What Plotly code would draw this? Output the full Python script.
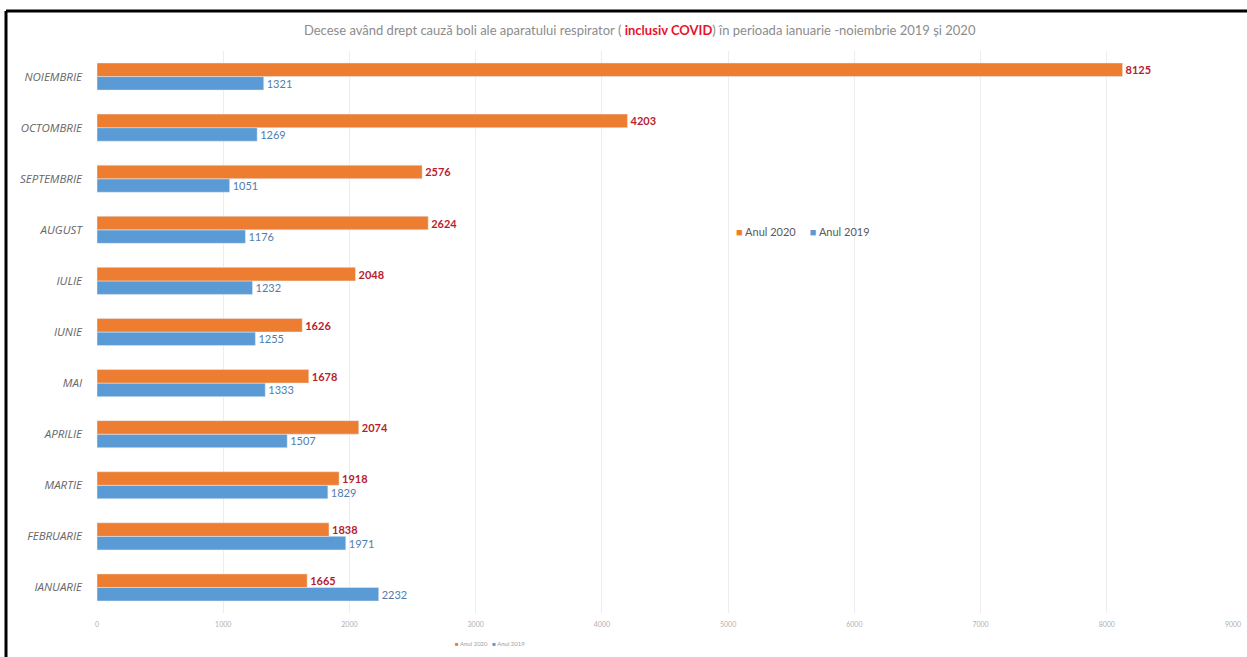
import plotly.graph_objects as go

months = ["IANUARIE", "FEBRUARIE", "MARTIE", "APRILIE", "MAI", "IUNIE",
          "IULIE", "AUGUST", "SEPTEMBRIE", "OCTOMBRIE", "NOIEMBRIE"]
anul_2020 = [1665, 1838, 1918, 2074, 1678, 1626, 2048, 2624, 2576, 4203, 8125]
anul_2019 = [2232, 1971, 1829, 1507, 1333, 1255, 1232, 1176, 1051, 1269, 1321]
x_ticks = [0, 1000, 2000, 3000, 4000, 5000, 6000, 7000, 8000, 9000]
series_names = ["Anul 2020", "Anul 2019"]

orange = "#ED7D31"
blue = "#5B9BD5"
font_family = "Lato, 'Open Sans', sans-serif"

fig = go.Figure()
fig.add_trace(go.Bar(
    y=months, x=anul_2019, orientation="h", name=series_names[1],
    marker_color=blue, text=anul_2019, textposition="outside",
    textfont=dict(color="#4F7DB0", size=11, family=font_family),
    constraintext="none", cliponaxis=False, showlegend=False,
))
fig.add_trace(go.Bar(
    y=months, x=anul_2020, orientation="h", name=series_names[0],
    marker_color=orange, text=[f"<b>{v}</b>" for v in anul_2020],
    textposition="outside",
    textfont=dict(color="#B81D2E", size=11, family=font_family),
    constraintext="none", cliponaxis=False, showlegend=False,
))


def legend_text(gap):
    return (f"<span style='color:{orange}'>■</span> {series_names[0]}"
            + "&nbsp;" * gap
            + f"<span style='color:{blue}'>■</span> {series_names[1]}")


annotations = [
    dict(text=legend_text(5), xref="paper", yref="paper",
         x=0.561, xanchor="left", y=0.678, yanchor="middle", showarrow=False,
         font=dict(size=11, color="#595959", family=font_family)),
    dict(text=legend_text(3), xref="paper", yref="paper",
         x=0.346, xanchor="center", y=-0.055, yanchor="middle", showarrow=False,
         font=dict(size=6, color="#A0A0A0", family=font_family)),
]

fig.update_layout(
    width=1247, height=657,
    margin=dict(l=97, r=14, t=51, b=44, autoexpand=False),
    paper_bgcolor="white", plot_bgcolor="white",
    barmode="group", bargap=0.47, bargroupgap=0,
    font=dict(family=font_family, color="#7F7F7F"),
    showlegend=False,
    title=dict(
        text="Decese având drept cauză boli ale aparatului respirator ( "
             "<b><span style='color:#E8142B'>inclusiv COVID</span></b>) în perioada "
             "ianuarie -noiembrie 2019 și 2020",
        x=0.513, xanchor="center", y=0.953, yanchor="middle",
        font=dict(size=13, color="#8C8C8C", family=font_family),
    ),
    xaxis=dict(
        range=[0, 9000], tickvals=x_ticks, automargin=False,
        showgrid=True, gridcolor="#EDEDED", gridwidth=1,
        zeroline=False, showline=False,
        tickfont=dict(size=7, color="#B0B0B0"),
        ticks="", ticklabelstandoff=6,
    ),
    yaxis=dict(
        categoryorder="array", categoryarray=months, automargin=False,
        showgrid=False, zeroline=False, showline=False,
        tickfont=dict(size=11.5, color="#666666", family="'Open Sans', sans-serif"),
        ticks="", ticklabelstandoff=14,
        labelalias={m: f"<i>{m}</i>" for m in months},
    ),
    annotations=annotations,
    shapes=[
        dict(type="line", xref="paper", yref="paper",
             x0=-0.0801, x1=1.2, y0=1.0712, y1=1.0712,
             line=dict(color="black", width=3)),
        dict(type="line", xref="paper", yref="paper",
             x0=-0.0801, x1=-0.0801, y0=1.0712, y1=-0.2,
             line=dict(color="black", width=3)),
    ],
)

fig.write_html(
    "out.html",
    config={"displayModeBar": False},
    post_script="document.body.style.margin='0';document.body.style.padding='0';",
)
